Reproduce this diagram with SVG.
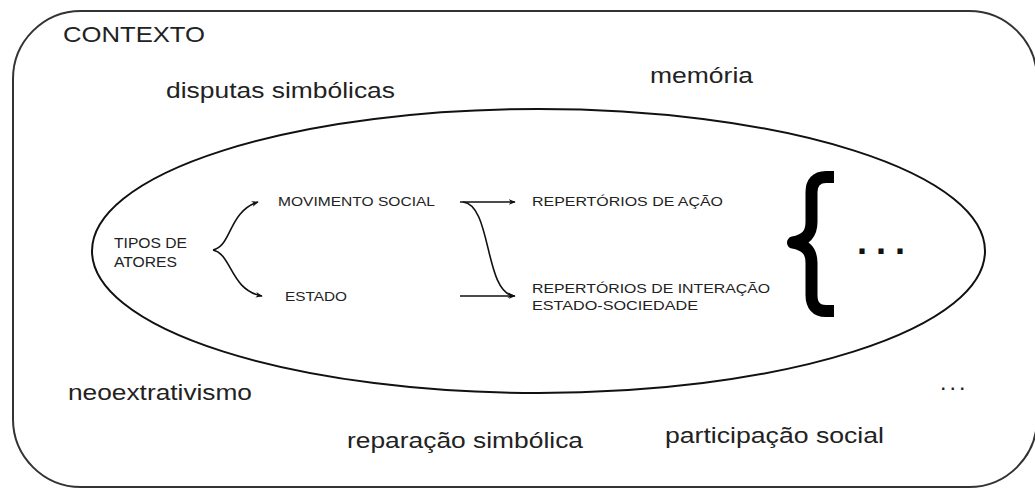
<svg xmlns="http://www.w3.org/2000/svg" width="1035" height="488" viewBox="0 0 1035 488">
<style>
text{font-family:"Liberation Sans",Arial,sans-serif;fill:#222}
.big{font-size:22px}
.sm{font-size:13px}
.mid{font-size:15px}
.conn{fill:none;stroke:#111;stroke-width:1.6}
</style>
<defs>
<marker id="ah" viewBox="0 0 10 10" refX="9" refY="5" markerWidth="7" markerHeight="7" orient="auto" markerUnits="userSpaceOnUse">
<path d="M0,1 L10,5 L0,9 L3,5 Z" fill="#111"/>
</marker>
</defs>
<rect width="1035" height="488" fill="#fff"/>
<g id="contexto">
<rect x="13" y="11" width="1024" height="476" rx="68" ry="68" fill="none" stroke="#333" stroke-width="2"/>
<text class="big" x="63" y="42" textLength="142" lengthAdjust="spacingAndGlyphs">CONTEXTO</text>
</g>
<g id="disputas"><text class="big" x="166" y="98" textLength="229" lengthAdjust="spacingAndGlyphs">disputas simbólicas</text></g>
<g id="memoria"><text class="big" x="650" y="83" textLength="103" lengthAdjust="spacingAndGlyphs">memória</text></g>
<g id="neoextrativismo"><text class="big" x="68" y="400" textLength="184" lengthAdjust="spacingAndGlyphs">neoextrativismo</text></g>
<g id="reparacao"><text class="big" x="347" y="448" textLength="236" lengthAdjust="spacingAndGlyphs">reparação simbólica</text></g>
<g id="participacao"><text class="big" x="665" y="443" textLength="219" lengthAdjust="spacingAndGlyphs">participação social</text></g>
<g id="etc-small"><text x="941" y="390" style="font-size:16px;font-weight:bold;letter-spacing:5px">...</text></g>
<g id="repertorios-ellipse">
<ellipse cx="538.5" cy="251" rx="446.5" ry="142" fill="none" stroke="#111" stroke-width="2"/>
</g>
<g id="tipos">
<text class="mid" x="114" y="248" textLength="73" lengthAdjust="spacingAndGlyphs">TIPOS DE</text>
<text class="mid" x="114" y="267" textLength="63" lengthAdjust="spacingAndGlyphs">ATORES</text>
</g>
<g id="movimento"><text class="sm" x="278" y="206" textLength="157" lengthAdjust="spacingAndGlyphs">MOVIMENTO SOCIAL</text></g>
<g id="estado"><text class="sm" x="285" y="301" textLength="62" lengthAdjust="spacingAndGlyphs">ESTADO</text></g>
<g id="rep-acao"><text class="sm" x="532" y="206" textLength="191" lengthAdjust="spacingAndGlyphs">REPERTÓRIOS DE AÇÃO</text></g>
<g id="rep-interacao">
<text class="sm" x="532" y="293" textLength="238" lengthAdjust="spacingAndGlyphs">REPERTÓRIOS DE INTERAÇÃO</text>
<text class="sm" x="532" y="310" textLength="166" lengthAdjust="spacingAndGlyphs">ESTADO-SOCIEDADE</text>
</g>
<g id="chave">
<path d="M834,177 L826,177 C816,177 811.5,183 811.5,192 L811.5,222 C811.5,234 806,240 793,242.5 C806,245 811.5,251 811.5,263 L811.5,295 C811.5,305 816,311 826,311 L834,311" fill="none" stroke="#000" stroke-width="12" stroke-linejoin="round"/>
<text x="857" y="254" style="font-size:36px;font-weight:bold;letter-spacing:9px;fill:#111">...</text>
</g>
<g id="connectors">
<path class="conn" d="M213,250 C232,246 228,212 258,202" marker-end="url(#ah)"/>
<path class="conn" d="M213,250 C232,254 230,290 262,296" marker-end="url(#ah)"/>
<path class="conn" d="M460,202 L515,202" marker-end="url(#ah)"/>
<path class="conn" d="M463,202 C492,205 484,292 514,296" marker-end="url(#ah)"/>
<path class="conn" d="M460,296 L515,296" marker-end="url(#ah)"/>
</g>
</svg>
